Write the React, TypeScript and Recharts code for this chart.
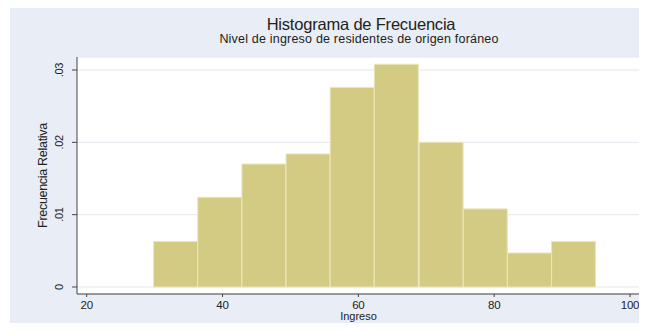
import { BarChart, Bar, XAxis, YAxis, CartesianGrid } from "recharts"

// histogram of income, 10 bins of about 6.5 units each
const binMids = [33.1, 39.6, 46.1, 52.6, 59.1, 65.6, 72.2, 78.7, 85.2, 91.7]
const density = [0.0063, 0.0124, 0.017, 0.0184, 0.0276, 0.0308, 0.02, 0.0108, 0.0047, 0.0063]
const xTicks = [20, 40, 60, 80, 100]
const yTicks = [0, 0.01, 0.02, 0.03]

const data = binMids.map((mid, i) => ({ mid, value: density[i] }))

const font = "'Liberation Sans', Arial, sans-serif"
const ink = "#222"

const fmtY = (v: number) => (v === 0 ? "0" : String(v).replace(/^0/, ""))

const YTick = ({ x, y, payload }: any) => (
  <text
    x={x - 7}
    y={y}
    transform={`rotate(-90 ${x - 7} ${y})`}
    textAnchor="middle"
    fontSize={11}
    letterSpacing={-0.3}
    fontFamily={font}
    fill={ink}>
    {fmtY(payload.value)}
  </text>
)

const App = () => {
  return (
    <div style={{ width: 639, height: 315, marginLeft: 2, background: "#e9edf5" }}>
      <BarChart
        width={639}
        height={315}
        data={data}
        margin={{ top: 49, right: 9, bottom: 0, left: 0 }}>
        <CartesianGrid vertical={false} stroke="#e3e7ee" fill="#ffffff" />
        <XAxis
          type="number"
          dataKey="mid"
          domain={[18.57, 101.47]}
          ticks={xTicks}
          allowDataOverflow
          height={29}
          tickSize={3}
          tickMargin={4}
          stroke="#444"
          tick={{ fontSize: 11.5, fill: ink, fontFamily: font, letterSpacing: -0.2 }}
          label={{
            content: ({ viewBox }: any) => (
              <text
                x={viewBox.x + viewBox.width / 2}
                y={312}
                textAnchor="middle"
                fontSize={11}
                fontFamily={font}
                fill={ink}>
                Ingreso
              </text>
            ),
          }}
        />
        <YAxis
          width={67}
          domain={[-0.00097, 0.0318]}
          ticks={yTicks}
          allowDataOverflow
          tickSize={5}
          stroke="#444"
          tick={<YTick />}
          label={{
            content: ({ viewBox }: any) => {
              const cy = viewBox.y + viewBox.height / 2
              return (
                <text
                  x={37}
                  y={cy}
                  transform={`rotate(-90 37 ${cy})`}
                  textAnchor="middle"
                  fontSize={12.5}
                  letterSpacing={-0.3}
                  fontFamily={font}
                  fill={ink}>
                  Frecuencia Relativa
                </text>
              )
            },
          }}
        />
        <Bar
          dataKey="value"
          barSize={44}
          fill="#d3cb84"
          stroke="#ebe6b8"
          strokeWidth={1}
          isAnimationActive={false}
        />
        <text x={351} y={22} textAnchor="middle" fontSize={16.5} letterSpacing={-0.2} fontFamily={font} fill={ink}>
          Histograma de Frecuencia
        </text>
        <text x={349} y={35} textAnchor="middle" fontSize={12.5} letterSpacing={0.2} fontFamily={font} fill={ink}>
          Nivel de ingreso de residentes de origen foráneo
        </text>
      </BarChart>
    </div>
  )
}

export default App
